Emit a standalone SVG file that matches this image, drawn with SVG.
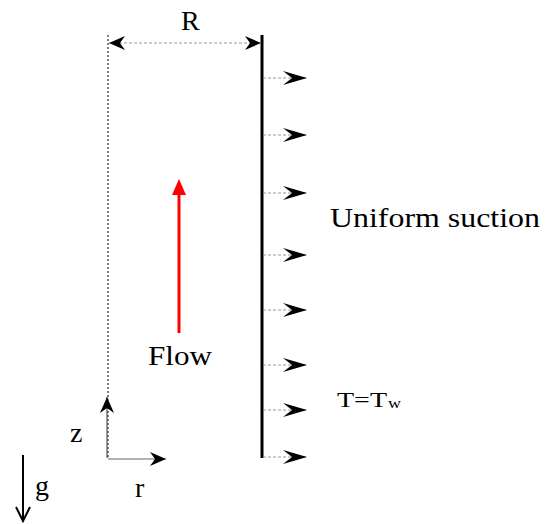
<svg xmlns="http://www.w3.org/2000/svg" width="551" height="524" viewBox="0 0 551 524">
<defs>
<style>
.t{font-family:"Liberation Serif","DejaVu Serif",serif;fill:#000}
.dash{stroke:#999;stroke-width:1;stroke-dasharray:3,2;fill:none}
</style>
<marker id="st" markerUnits="userSpaceOnUse" markerWidth="20" markerHeight="16" viewBox="-16 -8 17 16" refX="0" refY="0" orient="auto">
<path d="M0,0 L-16,-7 L-11,0 L-16,7 Z" fill="#000"/>
</marker>
<marker id="stb" markerUnits="userSpaceOnUse" markerWidth="20" markerHeight="16" viewBox="-16 -8 17 16" refX="0" refY="0" orient="auto-start-reverse">
<path d="M0,0 L-16,-7 L-11,0 L-16,7 Z" fill="#000"/>
</marker>
<marker id="sl" markerUnits="userSpaceOnUse" markerWidth="27" markerHeight="18" viewBox="-25 -9 27 18" refX="0" refY="0" orient="auto">
<path d="M0,0 L-24,-7 L-15,0 L-24,7 Z" fill="#000"/>
</marker>
</defs>
<rect width="551" height="524" fill="#fff"/>
<g id="axis-line">
<line x1="108" y1="35" x2="108" y2="457" stroke="#000" stroke-width="1" stroke-dasharray="2,2"/>
</g>
<g id="wall">
<line x1="262" y1="35" x2="262" y2="458" stroke="#000" stroke-width="3"/>
</g>
<g id="connectors">
<line class="dash" x1="109" y1="43" x2="261" y2="43" marker-start="url(#stb)" marker-end="url(#st)"/>
<line class="dash" x1="263" y1="78" x2="307" y2="78" marker-end="url(#sl)"/>
<line class="dash" x1="263" y1="135" x2="307" y2="135" marker-end="url(#sl)"/>
<line class="dash" x1="263" y1="193" x2="307" y2="193" marker-end="url(#sl)"/>
<line class="dash" x1="263" y1="255" x2="307" y2="255" marker-end="url(#sl)"/>
<line class="dash" x1="263" y1="310" x2="307" y2="310" marker-end="url(#sl)"/>
<line class="dash" x1="263" y1="365" x2="307" y2="365" marker-end="url(#sl)"/>
<line class="dash" x1="263" y1="410" x2="307" y2="410" marker-end="url(#sl)"/>
<line class="dash" x1="263" y1="457" x2="307" y2="457" marker-end="url(#sl)"/>
<line x1="107" y1="458" x2="107" y2="397" stroke="#333" stroke-width="1" marker-end="url(#st)"/>
<line x1="108" y1="459" x2="166" y2="459" stroke="#999" stroke-width="1.5" marker-end="url(#st)"/>
<line x1="23" y1="455" x2="23" y2="521" stroke="#000" stroke-width="2"/>
<polyline points="16,507 23,521 30,507" fill="none" stroke="#000" stroke-width="2"/>
</g>
<g id="flow">
<line x1="179" y1="333" x2="179" y2="192" stroke="#f00" stroke-width="3"/>
<polygon points="179,179 172,195 186,195" fill="#f00"/>
<text class="t" x="148" y="365" font-size="28" textLength="64" lengthAdjust="spacingAndGlyphs">Flow</text>
</g>
<g id="labels">
<text class="t" x="181" y="30" font-size="28">R</text>
<text class="t" x="330" y="227" font-size="28" textLength="210" lengthAdjust="spacingAndGlyphs">Uniform suction</text>
<text class="t" x="337" y="407" font-size="20" textLength="50" lengthAdjust="spacingAndGlyphs">T=T</text>
<text class="t" x="388" y="408" font-size="15" textLength="13" lengthAdjust="spacingAndGlyphs">w</text>
<text class="t" x="70" y="442" font-size="28">z</text>
<text class="t" x="135" y="497" font-size="28">r</text>
<text class="t" x="35" y="495" font-size="28">g</text>
</g>
</svg>
